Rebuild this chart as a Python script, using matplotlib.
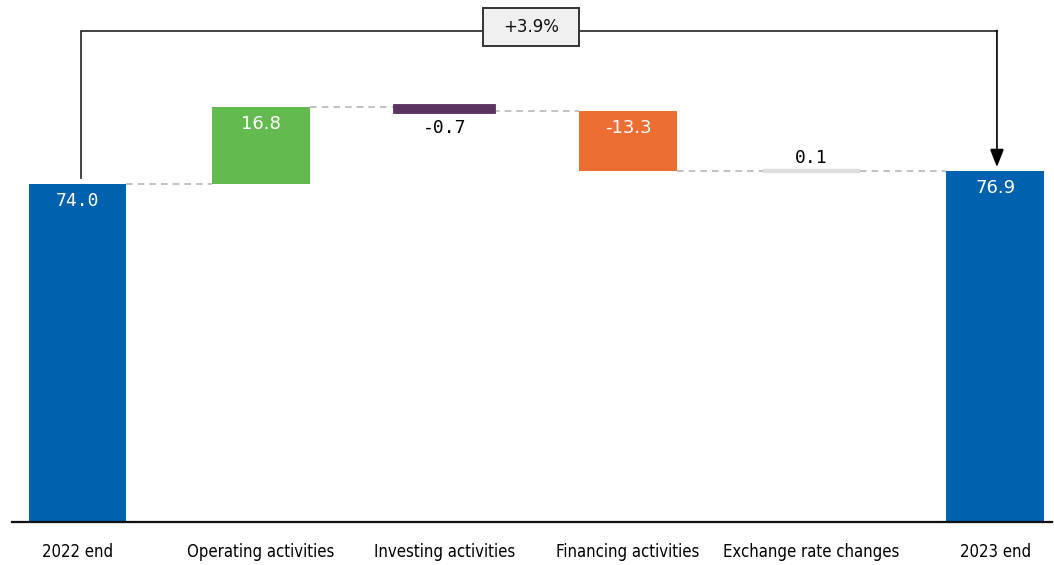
import matplotlib
matplotlib.use("Agg")
import matplotlib.pyplot as plt
from matplotlib.patches import FancyArrowPatch, Rectangle
from matplotlib import font_manager as fm

# Cash flow bridge, 2022 end -> 2023 end
categories = ["2022 end", "Operating activities", "Investing activities",
              "Financing activities", "Exchange rate changes", "2023 end"]
start_value = 74.0
changes = [16.8, -0.7, -13.3, 0.1]
end_value = 76.9
value_labels = ["74.0", "16.8", "-0.7", "-13.3", "0.1", "76.9"]

colors = ["#0061AE", "#63BA4F", "#5B3461", "#EC6E32", "#DEDEDE", "#0061AE"]
label_colors = ["white", "white", "black", "white", "black", "white"]
label_place = ["in", "in", "below", "in", "above", "in"]
edge_widths = [0, 0, 4.2, 0, 3.2, 0]


def pick_condensed():
    """Return (family, stretch, size) for the category labels."""
    for fam in ["DejaVu Sans", "Liberation Sans Narrow"]:
        try:
            path = fm.findfont(fm.FontProperties(family=fam, stretch="condensed"),
                               fallback_to_default=False)
        except Exception:
            continue
        if "ondensed" in path or "Narrow" in path:
            return fam, "condensed", 12
    return "Liberation Sans", "normal", 11


tick_family, tick_stretch, tick_size = pick_condensed()

fig = plt.figure(figsize=(10.54, 5.65), dpi=100)
ax = fig.add_axes([12 / 1054, 43 / 565, 1040 / 1054, 522 / 565])

# bottoms / heights of each bar
bottoms, heights = [0.0], [start_value]
level = start_value
levels = [level]
for c in changes:
    bottoms.append(min(level, level + c))
    heights.append(abs(c))
    level += c
    levels.append(level)
bottoms.append(0.0)
heights.append(end_value)
levels.append(end_value)

x = list(range(len(categories)))
width = 0.53
for i in x:
    ax.bar(x[i], heights[i], bottom=bottoms[i], width=width, color=colors[i],
           edgecolor=colors[i], linewidth=edge_widths[i], zorder=3)

# dashed connectors between consecutive bars
for i in range(len(x) - 1):
    ax.plot([x[i] + width / 2, x[i + 1] - width / 2], [levels[i], levels[i]],
            color="#B8B8B8", lw=1.2, dashes=(4, 3), zorder=2)

# value labels
for i in x:
    top = bottoms[i] + heights[i]
    fam = ["DejaVu Sans Mono"] if "0" in value_labels[i] else ["DejaVu Sans"]
    if label_place[i] == "in":
        anchor, dy = top, -17
    elif label_place[i] == "below":
        anchor, dy = bottoms[i], -17
    else:
        anchor, dy = top, 13
    ax.annotate(value_labels[i], (x[i], anchor), xytext=(0, dy),
                textcoords="offset pixels", ha="center", va="center",
                color=label_colors[i], fontsize=13, family=fam, zorder=4)

# growth bracket from first to last bar
pct = (end_value / start_value - 1) * 100
bracket_y = 107.5
x_left = x[0] + 0.02
x_right = x[-1] + 0.01
ax.plot([x_left, x_left, x_right], [start_value + 1.3, bracket_y, bracket_y],
        color="#222222", lw=1.2, zorder=5, solid_joinstyle="miter")
arrow = FancyArrowPatch((x_right, bracket_y + 0.13), (x_right, end_value + 0.8),
                        arrowstyle="-|>,head_length=11,head_width=4.3",
                        color="black", lw=1.2, shrinkA=0, shrinkB=0,
                        joinstyle="miter", zorder=5)
ax.add_patch(arrow)
box = Rectangle((2.21, 104.2), 0.52, 8.3, facecolor="#F0F0F0",
                edgecolor="#333333", linewidth=1.4, zorder=6)
ax.add_patch(box)
ax.text(2.47, 108.35, f"+{pct:.1f}%", ha="center", va="center", fontsize=12,
        color="#111111", zorder=7)

ax.set_xlim(-0.357, 5.31)
ax.set_ylim(0, 114.3)
ax.set_xticks(x)
ax.set_xticklabels(categories, family=[tick_family, "DejaVu Sans"],
                   fontstretch=tick_stretch, fontsize=tick_size)
ax.tick_params(axis="x", length=0, pad=15)
ax.set_yticks([])
for s in ["top", "right", "left"]:
    ax.spines[s].set_visible(False)
ax.spines["bottom"].set_linewidth(1.6)
ax.spines["bottom"].set_color("#111111")
ax.spines["bottom"].set_zorder(6)

fig.savefig("out.png", dpi=100)
